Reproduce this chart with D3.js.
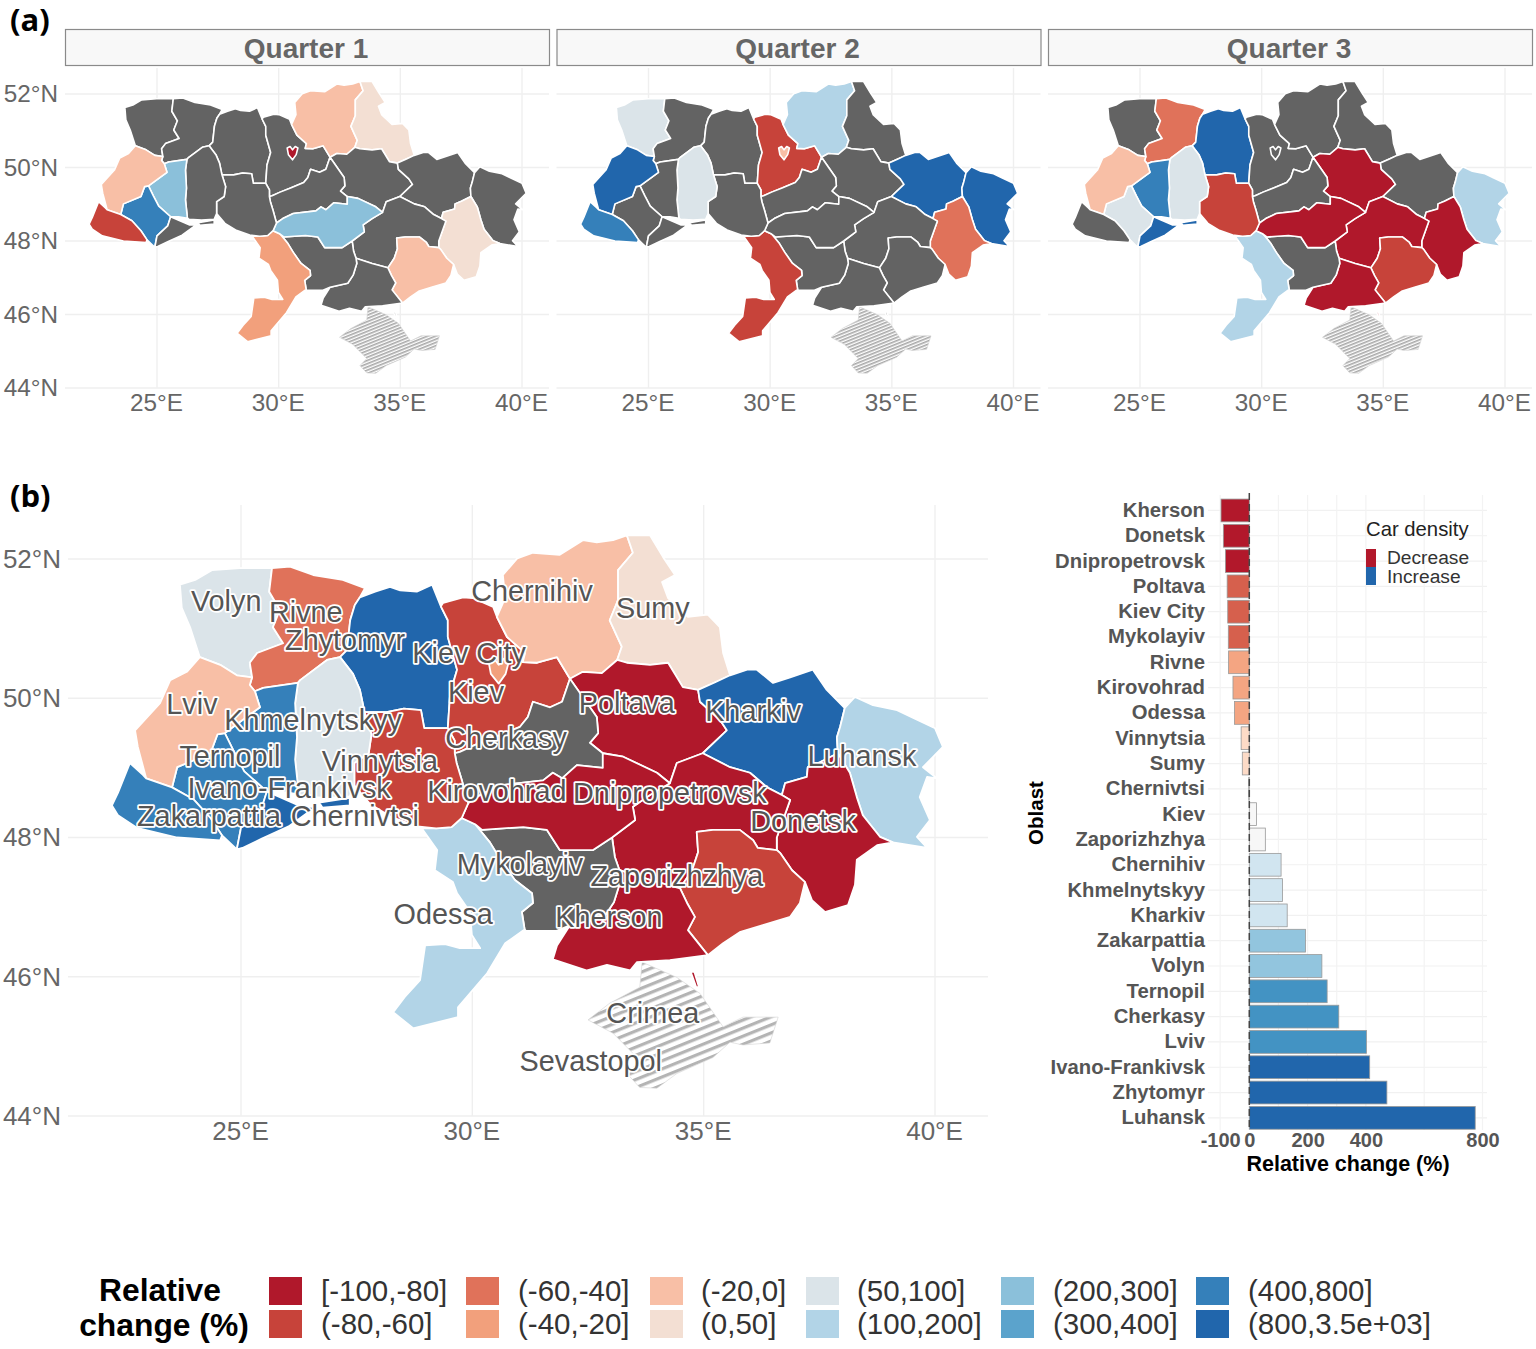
<!DOCTYPE html>
<html>
<head>
<meta charset="utf-8">
<script src="https://cdn.jsdelivr.net/npm/d3@7"></script>
<style>
  body { margin: 0; background: #fff; }
  text { font-family: "Liberation Sans", Arial, sans-serif; }
</style>
</head>
<body>
<div id="chart"></div>
<script>
// oblast borders as shared arcs, [lon, lat], so neighbours meet exactly
const volynW = [[24.11,50.59],[23.90,51.02],[23.72,51.30],[23.68,51.63],[24.01,51.70],[24.37,51.84],[24.98,51.87],[25.67,51.87]];
const volynRivne = [[25.67,51.87],[25.61,51.53],[25.84,51.27],[25.69,51.02],[25.91,50.79],[25.35,50.65],[25.19,50.51],[25.24,50.30]];
const volynLviv = [[25.24,50.30],[24.91,50.33],[24.55,50.48],[24.11,50.59]];
const rivneN = [[25.67,51.87],[26.06,51.89],[26.56,51.77],[27.20,51.70],[27.68,51.58],[27.57,51.45]];
const rivneZhyt = [[27.57,51.45],[27.46,51.34],[27.36,51.12],[27.29,50.69],[27.14,50.59]];
const rivneKhmel = [[27.14,50.59],[26.86,50.55],[26.28,50.26],[26.23,50.22]];
const rivneTern = [[26.23,50.22],[25.48,50.15],[25.30,50.10]];
const rivneLviv = [[25.24,50.30],[25.19,50.19],[25.30,50.10]];
const zhytN = [[27.57,51.45],[27.90,51.53],[28.22,51.60],[28.44,51.55],[28.80,51.53],[29.13,51.63],[29.32,51.32]];
const zhytKiev = [[29.32,51.32],[29.47,51.12],[29.47,50.88],[29.67,50.41],[29.52,50.07],[29.47,49.57]];
const zhytVin = [[29.47,49.57],[28.96,49.57],[28.89,49.83],[28.52,49.85],[28.15,49.80],[27.67,49.80]];
const zhytKhmel = [[27.14,50.59],[27.42,50.35],[27.57,50.12],[27.67,49.80]];
const kievN = [[29.32,51.32],[29.37,51.37],[29.80,51.45],[30.01,51.44],[30.45,51.31],[30.53,51.17]];
const kievChern = [[30.53,51.17],[30.75,50.88],[31.14,50.65],[31.09,50.52],[31.40,50.51],[31.83,50.59],[32.11,50.28]];
const kievCher = [[32.11,50.28],[31.94,49.95],[31.68,49.87],[31.31,49.95],[31.20,49.73],[31.03,49.59],[30.49,49.44],[30.06,49.33],[29.73,49.23],[29.62,49.21]];
const kievVin = [[29.62,49.21],[29.62,49.39],[29.47,49.57]];
const chernW = [[30.53,51.17],[30.71,51.44],[30.66,51.77],[30.97,52.01],[31.31,52.09],[31.89,52.06],[32.39,52.27],[32.69,52.24],[33.04,52.27],[33.34,52.34]];
const chernSumy = [[33.34,52.34],[33.47,52.09],[33.15,51.84],[33.15,51.41],[32.97,51.12],[33.23,50.74],[33.13,50.55]];
const chernPolt = [[33.13,50.55],[32.80,50.36],[32.39,50.38],[32.11,50.28]];
const sumyE = [[33.34,52.34],[33.84,52.34],[34.12,52.03],[34.38,51.77],[34.10,51.67],[34.23,51.44],[34.66,51.17],[35.09,51.20],[35.35,51.02],[35.42,50.65],[35.57,50.33]];
const sumyKhar = [[35.57,50.33],[35.25,50.23],[34.88,50.12]];
const sumyPolt = [[34.88,50.12],[34.55,50.16],[34.23,50.51],[33.84,50.48],[33.34,50.51],[33.13,50.55]];
const poltCher = [[32.11,50.28],[32.69,49.73],[32.72,49.50],[32.54,49.36],[32.82,49.21]];
const poltKir = [[32.82,49.21],[33.26,49.16],[33.99,48.93],[34.27,48.78]];
const poltDn = [[34.27,48.78],[34.42,49.07],[34.98,49.21]];
const poltKhar = [[34.88,50.12],[34.92,49.95],[35.35,49.69],[35.50,49.54],[34.98,49.21]];
const cherKir = [[32.82,49.21],[32.82,49.00],[32.26,49.04],[31.94,48.85],[31.74,48.93],[31.53,48.82],[30.60,48.75],[30.17,48.61],[29.91,48.49]];
const cherVin = [[29.91,48.49],[29.77,48.83],[29.66,49.07],[29.62,49.21]];
const vinKir = [[29.91,48.49],[29.77,48.28]];
const vinOd = [[29.22,48.13],[29.55,48.15],[29.77,48.28]];
const kirOd = [[29.77,48.28],[30.06,48.19]];
const kirMyk = [[30.06,48.19],[30.21,48.11],[31.10,48.15],[31.61,48.11],[31.89,47.82],[32.61,47.82],[33.02,48.00]];
const kirDn = [[33.02,48.00],[33.52,48.25],[33.47,48.44],[33.84,48.61],[34.27,48.78]];
const kharN = [[35.57,50.33],[35.94,50.41],[36.15,50.41],[36.50,50.22],[36.87,50.30],[37.36,50.41],[37.66,50.12],[38.05,49.86]];
const kharLuh = [[38.05,49.86],[37.95,49.59],[37.88,49.44],[37.90,49.21]];
const kharDon = [[37.90,49.21],[37.51,49.08],[37.25,49.01],[37.23,48.87],[36.76,48.78],[36.69,48.61]];
const kharDn = [[36.69,48.61],[36.37,48.72],[36.00,48.93],[35.57,49.01],[34.98,49.21]];
const luhN = [[38.05,49.86],[38.27,50.02],[38.66,49.90],[39.18,49.83],[39.52,49.72],[40.00,49.57],[40.17,49.30],[39.74,49.01],[40.04,48.85],[39.83,48.87],[39.67,48.58],[39.89,48.25],[39.61,48.01],[39.83,47.85],[39.09,47.93]];
const luhDon = [[39.09,47.93],[38.81,48.01],[38.44,48.32],[38.31,48.58],[38.16,48.93],[37.90,49.21]];
const donS = [[39.09,47.93],[38.75,47.89],[38.31,47.68],[38.27,47.32],[38.12,47.03],[37.62,46.93],[37.34,47.10],[37.19,47.36]];
const donZap = [[37.19,47.36],[36.91,47.53],[36.65,47.78],[36.58,47.82]];
const donDn = [[36.58,47.82],[36.58,48.00],[36.87,48.54],[36.69,48.61]];
const dnZap = [[36.58,47.82],[36.17,47.85],[36.07,47.96],[35.78,48.11],[35.20,48.11],[34.85,48.08],[34.88,47.79],[34.75,47.53],[34.49,47.27]];
const dnKh = [[34.49,47.27],[33.84,47.39],[33.18,47.53]];
const dnMyk = [[33.18,47.53],[33.08,47.72],[33.02,48.00]];
const zapS = [[37.19,47.36],[37.08,47.06],[36.87,46.86],[36.28,46.74],[35.78,46.64],[35.42,46.48],[35.09,46.31]];
const zapKh = [[35.09,46.31],[34.66,46.67],[34.81,46.86],[34.64,47.06],[34.49,47.27]];
const khS = [[35.09,46.31],[34.27,46.24],[33.56,46.21],[33.41,46.09],[32.91,46.17],[32.48,46.09],[31.74,46.25],[31.83,46.45],[32.11,46.74]];
const khMyk = [[32.11,46.74],[32.84,46.85],[33.06,47.07],[33.21,47.39],[33.18,47.53]];
const mykS = [[32.11,46.74],[31.82,46.66],[31.16,46.66],[31.13,46.68]];
const mykOd = [[31.13,46.68],[31.07,46.93],[31.31,47.06],[31.29,47.20],[30.92,47.39],[30.60,47.69],[30.38,47.93],[30.06,48.19]];
const odS = [[31.13,46.68],[30.71,46.48],[30.32,46.05],[29.69,45.56],[29.69,45.42],[28.72,45.26],[28.29,45.49],[28.54,45.71],[28.87,45.95],[28.98,46.45],[29.41,46.47],[29.73,46.41],[30.17,46.41],[29.99,46.60],[29.95,46.93],[29.67,47.20],[29.58,47.36],[29.19,47.53],[29.24,47.82],[28.91,48.13],[29.22,48.13]];
const vinS = [[29.22,48.13],[28.81,48.16],[28.23,48.30],[27.79,48.48],[27.45,48.75]];
const vinKhmel = [[27.67,49.80],[27.82,49.48],[27.76,49.21],[27.45,49.07],[27.45,48.75]];
const khmS = [[27.45,48.75],[27.35,48.59],[26.83,48.57],[26.32,48.59],[26.25,48.62]];
const khmTern = [[26.25,48.62],[26.17,49.12],[26.21,49.44],[26.17,49.93],[26.23,50.22]];
const ternS = [[26.25,48.62],[25.88,48.66],[25.56,48.66]];
const ternIF = [[25.56,48.66],[25.07,48.95],[24.85,49.23],[24.65,49.50]];
const ternLv = [[24.65,49.50],[25.41,49.87],[25.30,50.10]];
const lvIF = [[24.65,49.50],[24.49,49.48],[24.34,49.21],[23.62,49.01],[23.51,48.72]];
const ifZak = [[23.51,48.72],[23.97,48.55],[24.34,48.28],[24.59,48.03]];
const ifS = [[24.59,48.03],[24.91,47.83]];
const ifCh = [[24.91,47.83],[25.00,48.14],[25.44,48.41],[25.56,48.66]];
const lvZak = [[23.51,48.72],[22.95,48.85]];
const lvW = [[22.95,48.85],[22.77,49.30],[22.71,49.54],[23.25,49.93],[23.47,50.26],[23.83,50.38],[24.11,50.59]];
const zakS = [[24.59,48.03],[24.55,47.96],[23.62,48.00],[22.75,48.14],[22.34,48.32],[22.21,48.46],[22.34,48.64],[22.60,49.07],[22.88,48.90],[22.95,48.85]];
const chN = [[25.56,48.66],[26.32,48.44],[26.61,48.44],[26.03,48.16],[25.44,47.98],[25.03,47.85],[24.91,47.83]];

// small separate pieces
const kievCity = [[30.35,50.53],[30.47,50.57],[30.57,50.48],[30.68,50.57],[30.79,50.53],[30.72,50.35],[30.57,50.21],[30.40,50.35]];
const arabatSpit = [[34.72,46.07],[34.80,46.07],[34.90,45.85],[34.84,45.85]];
const chernivtsiEast = [[26.69,48.50],[27.35,48.57],[27.35,48.46],[26.76,48.43]];
const crimea = [[33.67,46.21],[34.42,45.99],[34.92,45.76],[35.42,45.28],[35.85,45.42],[36.61,45.42],[36.43,45.05],[35.85,45.02],[35.57,45.06],[35.20,44.84],[34.42,44.61],[33.99,44.40],[33.62,44.41],[33.34,44.61],[33.62,44.80],[33.04,45.19],[32.50,45.38],[32.97,45.62],[33.62,45.85]];

const r = a => a.slice().reverse();
const ring = (...arcs) => [].concat(...arcs);

const mapOblasts = ['Volyn','Rivne','Zhytomyr','Kiev','Kiev City','Chernihiv','Sumy','Poltava','Cherkasy','Kharkiv','Luhansk','Donetsk','Dnipropetrovsk','Zaporizhzhya','Kherson','Mykolayiv','Odessa','Kirovohrad','Vinnytsia','Khmelnytskyy','Ternopil','Ivano-Frankivsk','Lviv','Zakarpattia','Chernivtsi'];
const mapShapes = [
  [ring(volynW,volynRivne,volynLviv)],
  [ring(rivneN,rivneZhyt,rivneKhmel,rivneTern,r(rivneLviv),r(volynRivne))],
  [ring(zhytN,zhytKiev,zhytVin,r(zhytKhmel),r(rivneZhyt))],
  [ring(kievN,kievChern,kievCher,kievVin,r(zhytKiev))],
  [kievCity],
  [ring(chernW,chernSumy,chernPolt,r(kievChern))],
  [ring(sumyE,sumyKhar,sumyPolt,r(chernSumy))],
  [ring(r(chernPolt),r(sumyPolt),poltKhar,r(poltDn),r(poltKir),r(poltCher))],
  [ring(r(kievCher),poltCher,cherKir,cherVin)],
  [ring(r(sumyKhar),kharN,kharLuh,kharDon,kharDn,r(poltKhar))],
  [ring(luhN,luhDon,r(kharLuh))],
  [ring(r(kharDon),r(luhDon),donS,donZap,donDn)],
  [ring(r(kharDn),r(donDn),dnZap,dnKh,dnMyk,kirDn,poltDn)],
  [ring(r(dnZap),r(donZap),zapS,zapKh)],
  [ring(r(dnKh),r(zapKh),khS,khMyk),arabatSpit],
  [ring(kirMyk,r(dnMyk),r(khMyk),mykS,mykOd)],
  [ring(vinOd,kirOd,r(mykOd),odS)],
  [ring(r(vinKir),r(cherKir),poltKir,r(kirDn),r(kirMyk),r(kirOd))],
  [ring(r(zhytVin),r(kievVin),r(cherVin),vinKir,r(vinOd),vinS,r(vinKhmel))],
  [ring(zhytKhmel,vinKhmel,khmS,khmTern,r(rivneKhmel))],
  [ring(r(rivneTern),r(khmTern),ternS,ternIF,ternLv)],
  [ring(r(ternIF),r(ifCh),r(ifS),r(ifZak),r(lvIF))],
  [ring(r(volynLviv),rivneLviv,r(ternLv),lvIF,lvZak,lvW)],
  [ring(r(lvZak),ifZak,zakS)],
  [ring(ifCh,chN),chernivtsiEast]
];

// class per oblast, same order as mapOblasts, 0 = no data, 1..12 = legend class
const q1Class = [0,0,0,0,1,5,6,0,0,0,0,6,0,5,0,0,4,9,0,0,9,11,5,2,0];
const q2Class = [7,0,0,2,5,8,0,0,0,12,12,3,0,0,0,0,2,0,0,7,0,0,12,11,0];
const q3Class = [0,3,12,0,0,0,0,1,0,0,8,1,1,2,1,0,8,1,2,7,11,7,5,0,12];
const allClass = [7,3,12,2,4,5,6,1,0,12,8,1,1,2,1,0,8,1,2,7,11,11,5,11,12];

const classLabels = ['[-100,-80]','(-80,-60]','(-60,-40]','(-40,-20]','(-20,0]','(0,50]','(50,100]','(100,200]','(200,300]','(300,400]','(400,800]','(800,3.5e+03]'];
const classColours = ['#636363','#b0182b','#c7433a','#e0725a','#f2a07c','#f8bfa6','#f3dfd3','#dbe4e9','#b2d4e7','#8bc0da','#5ba3cc','#3580ba','#2166ac'];

// map labels
const labelNames = ['Volyn','Rivne','Zhytomyr','Kiev City','Chernihiv','Sumy','Lviv','Khmelnytskyy','Kiev','Poltava','Kharkiv','Cherkasy','Ternopil','Vinnytsia','Luhansk','Ivano-Frankivsk','Kirovohrad','Dnipropetrovsk','Zakarpattia','Chernivtsi','Donetsk','Mykolayiv','Zaporizhzhya','Odessa','Kherson','Crimea','Sevastopol'];
const labelLon = [24.68,26.40,27.25,29.93,31.29,33.90,23.94,26.56,30.08,33.34,36.07,30.73,24.76,28.00,38.42,26.04,30.53,34.27,24.31,27.46,37.15,31.03,34.42,29.37,32.95,33.90,32.56];
const labelLat = [51.40,51.24,50.84,50.65,51.55,51.30,49.92,49.70,50.09,49.93,49.82,49.44,49.17,49.11,49.18,48.72,48.68,48.64,48.32,48.32,48.24,47.62,47.45,46.91,46.87,45.49,44.79];

// bar panel
const barOblasts = ['Kherson','Donetsk','Dnipropetrovsk','Poltava','Kiev City','Mykolayiv','Rivne','Kirovohrad','Odessa','Vinnytsia','Sumy','Chernivtsi','Kiev','Zaporizhzhya','Chernihiv','Khmelnytskyy','Kharkiv','Zakarpattia','Volyn','Ternopil','Cherkasy','Lviv','Ivano-Frankivsk','Zhytomyr','Luhansk'];
const barValues = [-97,-89,-82,-76,-74,-72,-71,-56,-51,-28,-24,-2,25,55,109,114,130,193,249,267,307,402,413,472,775];
const barBin = [0,0,0,1,1,1,2,2,2,3,3,4,4,4,5,5,5,6,6,7,7,7,8,8,8];
const barPalette = ['#b2182b','#d6604d','#f4a582','#fddbc7','#f7f7f7','#d1e5f0','#92c5de','#4393c3','#2166ac'];
const barMajorTicks = [-100,0,200,400,800];
const barMinorTicks = [100,300,600];

const lonTicks = [25,30,35,40];
const latTicks = [44,46,48,50,52];
const quarterNames = ['Quarter 1','Quarter 2','Quarter 3'];

const svg = d3.select('#chart').append('svg').attr('width',1536).attr('height',1349).style('display','block');
const defs = svg.append('defs');

function hatch(id, gap, weight, colour) {
  const p = defs.append('pattern').attr('id',id).attr('patternUnits','userSpaceOnUse')
    .attr('width',gap).attr('height',gap).attr('patternTransform','rotate(-22)');
  p.append('rect').attr('width',gap).attr('height',gap).attr('fill','#fff');
  p.append('rect').attr('width',gap).attr('height',weight).attr('fill',colour);
}
hatch('hatchSmall',3,1.6,'#a8a8a8');
hatch('hatchBig',7.5,3.2,'#b4b4b4');

function drawMap(x, y, gridX, gridY, classes, lineW, hatchId, fontSize, showLat) {
  const g = svg.append('g');
  const line = d3.line().x(d => x(d[0])).y(d => y(d[1]));
  const ringPath = rings => rings.map(a => line(a) + 'Z').join('');

  g.selectAll('.hgrid').data(latTicks).join('line').attr('class','hgrid')
    .attr('x1',gridX[0]).attr('x2',gridX[1]).attr('y1',d => y(d)).attr('y2',d => y(d))
    .attr('stroke','#efefef').attr('stroke-width',1.4);
  g.selectAll('.vgrid').data(lonTicks).join('line').attr('class','vgrid')
    .attr('x1',d => x(d)).attr('x2',d => x(d)).attr('y1',gridY[0]).attr('y2',gridY[1])
    .attr('stroke','#efefef').attr('stroke-width',1.4);

  g.append('path').attr('d',ringPath([crimea])).attr('fill','url(#' + hatchId + ')')
    .attr('stroke','#d4d4d4').attr('stroke-width',0.6);
  g.selectAll('.oblast').data(mapOblasts).join('path').attr('class','oblast')
    .attr('d',(d,i) => ringPath(mapShapes[i]))
    .attr('fill',(d,i) => classColours[classes[i]])
    .attr('stroke','#fff').attr('stroke-width',lineW).attr('stroke-linejoin','round');

  const xAxis = d3.axisBottom(x).tickValues(lonTicks).tickSize(0).tickPadding(6).tickFormat(d => d + '°E');
  const ax = g.append('g').attr('transform','translate(0,' + y(44) + ')').call(xAxis);
  ax.select('.domain').remove();
  ax.selectAll('text').attr('fill','#666').attr('dx',-1).style('font-size',fontSize + 'px').style('font-family','"Liberation Sans"');
  if (showLat) {
    const yAxis = d3.axisLeft(y).tickValues(latTicks).tickSize(0).tickPadding(6).tickFormat(d => d + '°N');
    const ay = g.append('g').attr('transform','translate(' + (gridX[0] - 1) + ',0)').call(yAxis);
    ay.select('.domain').remove();
    ay.selectAll('text').attr('fill','#666').style('font-size',fontSize + 'px').style('font-family','"Liberation Sans"');
  }
}

// (a) quarter panels
const panelStep = 491.5;
[q1Class,q2Class,q3Class].forEach((classes,i) => {
  const dx = i * panelStep;
  const x = d3.scaleLinear().domain([25,40]).range([157 + dx,522 + dx]);
  const y = d3.scaleLinear().domain([44,52]).range([388,94]);
  drawMap(x, y, [65 + dx,549 + dx], [68,388], classes, 1.6, 'hatchSmall', 24.3, i === 0);
  svg.append('rect').attr('x',65.5 + dx).attr('y',29.5).attr('width',484).attr('height',36)
    .attr('fill','#f8f8f8').attr('stroke','#8a8a8a').attr('stroke-width',1.2);
  svg.append('text').attr('x',306 + dx).attr('y',57.5).attr('text-anchor','middle')
    .attr('font-weight',700).attr('font-size',28).attr('fill','#666').text(quarterNames[i]);
});

// (b) overall map
const xB = d3.scaleLinear().domain([25,40]).range([241,935]);
const yB = d3.scaleLinear().domain([44,52]).range([1116,559]);
drawMap(xB, yB, [68,988], [505,1116], allClass, 1.8, 'hatchBig', 26, true);
svg.append('g').selectAll('text').data(labelNames).join('text')
  .attr('x',(d,i) => xB(labelLon[i])).attr('y',(d,i) => yB(labelLat[i]))
  .attr('dy','0.36em').attr('text-anchor','middle').attr('font-size',28.8)
  .attr('fill','#555').attr('stroke','#fff').attr('stroke-width',3.5).attr('stroke-linejoin','round')
  .style('paint-order','stroke').text(d => d);

svg.append('text').attr('x',10).attr('y',31).attr('font-size',31).attr('font-weight',700)
  .style('font-family','"Open Sans"').attr('fill','#000').text('(a)');
svg.append('text').attr('x',10).attr('y',507).attr('font-size',31).attr('font-weight',700)
  .style('font-family','"Open Sans"').attr('fill','#000').text('(b)');

// (b) bars
const xBar = d3.scaleLinear().domain([0,800]).range([1249.3,1482.5]);
const yBar = d3.scaleBand().domain(barOblasts).range([497.8,1130.5]).paddingInner(0.1).paddingOuter(0.05);
const barG = svg.append('g');
barG.selectAll('.hg').data(barOblasts).join('line').attr('class','hg')
  .attr('x1',1208).attr('x2',1487).attr('y1',d => yBar(d) + yBar.bandwidth() / 2).attr('y2',d => yBar(d) + yBar.bandwidth() / 2)
  .attr('stroke','#f1f1f1').attr('stroke-width',1.2);
barG.selectAll('.vg').data(barMajorTicks.concat(barMinorTicks)).join('line').attr('class','vg')
  .attr('x1',d => xBar(d)).attr('x2',d => xBar(d)).attr('y1',495).attr('y2',1130)
  .attr('stroke','#f3f3f3').attr('stroke-width',1.2);
barG.selectAll('.bar').data(barOblasts).join('rect').attr('class','bar')
  .attr('x',(d,i) => Math.min(xBar(0),xBar(barValues[i])))
  .attr('width',(d,i) => Math.abs(xBar(barValues[i]) - xBar(0)))
  .attr('y',d => yBar(d)).attr('height',yBar.bandwidth())
  .attr('fill',(d,i) => barPalette[barBin[i]])
  .attr('stroke','#999').attr('stroke-width',0.8);
barG.append('line').attr('x1',xBar(0)).attr('x2',xBar(0)).attr('y1',493).attr('y2',1130)
  .attr('stroke','#444').attr('stroke-width',1.5).attr('stroke-dasharray','7 4');

const barY = d3.axisLeft(yBar).tickSize(0).tickPadding(6);
const barYg = svg.append('g').attr('transform','translate(1211,0)').call(barY);
barYg.select('.domain').remove();
barYg.selectAll('text').attr('fill','#555').style('font-size','20.3px').style('font-weight',700).style('font-family','"Liberation Sans"');
const barX = d3.axisBottom(xBar).tickValues(barMajorTicks).tickSize(0).tickPadding(4).tickFormat(d => String(d));
const barXg = svg.append('g').attr('transform','translate(0,1129)').call(barX);
barXg.select('.domain').remove();
barXg.selectAll('text').attr('fill','#555').style('font-size','20px').style('font-weight',700).style('font-family','"Liberation Sans"');

svg.append('text').attr('x',1348).attr('y',1171).attr('text-anchor','middle').attr('font-size',21.5).attr('font-weight',700).attr('fill','#000').text('Relative change (%)');
svg.append('text').attr('transform','translate(1043,813) rotate(-90)').attr('text-anchor','middle').attr('font-size',20.5).attr('font-weight',700).attr('fill','#000').text('Oblast');

const carLabels = ['Decrease','Increase'];
const carColours = ['#b2182b','#2166ac'];
svg.append('text').attr('x',1366).attr('y',536).attr('font-size',20.3).attr('fill','#222').text('Car density');
svg.selectAll('.carkey').data(carLabels).join('rect').attr('class','carkey')
  .attr('x',1366).attr('y',(d,i) => 549 + i * 18).attr('width',10).attr('height',18).attr('fill',(d,i) => carColours[i]);
svg.selectAll('.carlab').data(carLabels).join('text').attr('class','carlab')
  .attr('x',1387).attr('y',(d,i) => 564 + i * 18.5).attr('font-size',19.2).attr('fill','#333').text(d => d);

// class legend
svg.append('text').attr('x',160).attr('y',1301).attr('text-anchor','middle').attr('font-size',31.8).attr('font-weight',700).attr('fill','#000').text('Relative');
svg.append('text').attr('x',164).attr('y',1336).attr('text-anchor','middle').attr('font-size',31.8).attr('font-weight',700).attr('fill','#000').text('change (%)');
const legendKeyX = [269,466,650,806,1001,1196];
const legendTextX = [321,518,701,857,1053,1248];
const legendRowY = [1277,1310];
classLabels.forEach((lab,i) => {
  const col = Math.floor(i / 2), row = i % 2;
  svg.append('rect').attr('x',legendKeyX[col]).attr('y',legendRowY[row]).attr('width',33).attr('height',28).attr('fill',classColours[i + 1]);
  svg.append('text').attr('x',legendTextX[col]).attr('y',legendRowY[row] + 24).attr('font-size',29.5).attr('fill','#333').text(lab);
});
</script>
</body>
</html>
